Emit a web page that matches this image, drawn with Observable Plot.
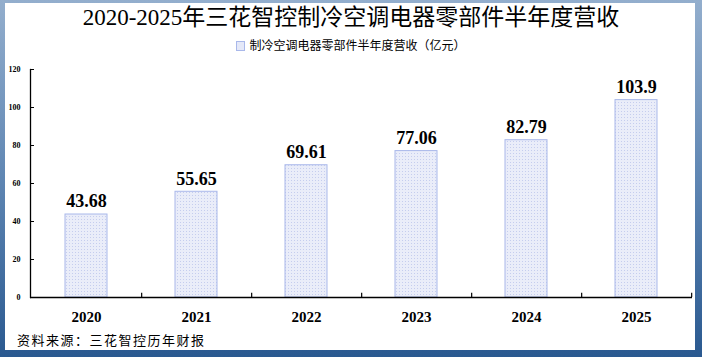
<!DOCTYPE html>
<html><head><meta charset="utf-8">
<script src="https://cdn.jsdelivr.net/npm/d3@7"></script>
<script src="https://cdn.jsdelivr.net/npm/@observablehq/plot@0.6"></script>
<style>
html,body{margin:0;padding:0;background:#fff;}
#frame{position:relative;width:702px;height:357px;background:linear-gradient(to bottom,#93aecd 0%,#5f86b3 50%,#2a5990 100%);overflow:hidden;}
#inner{position:absolute;left:5px;top:3px;width:690px;height:347px;background:#fff;}
#title{position:absolute;left:0;top:5px;width:702px;text-align:center;font:23px/26px "Liberation Serif","Times New Roman","Noto Sans CJK SC",serif;color:#000;}
#legend{position:absolute;left:0;top:39px;width:702px;text-align:center;font:12px/14px "Liberation Serif","Noto Sans CJK SC",serif;color:#000;}
#legend .sw{display:inline-block;width:9px;height:10px;background:#e4e8f8;border:1px solid #a9b8ea;box-sizing:border-box;vertical-align:-1px;margin-right:4px;}
#chart{position:absolute;left:0;top:60px;}
#chart svg{overflow:visible;}
#caption{position:absolute;left:17px;top:332px;font:13px/16px "Noto Sans CJK SC",serif;letter-spacing:1.5px;color:#000;}
</style></head>
<body>
<div id="frame">
  <div id="inner"></div>
  <div id="title">2020-2025年三花智控制冷空调电器零部件半年度营收</div>
  <div id="legend"><span class="sw"></span>制冷空调电器零部件半年度营收（亿元）</div>
  <div id="chart"></div>
  <div id="caption">资料来源：三花智控历年财报</div>
</div>
<script>
const years = ["2020", "2021", "2022", "2023", "2024", "2025"];
const revenue = [43.68, 55.65, 69.61, 77.06, 82.79, 103.9];
const valueLabels = ["43.68", "55.65", "69.61", "77.06", "82.79", "103.9"];
const yTicks = [0, 20, 40, 60, 80, 100, 120];

const data = years.map((y, i) => ({year: y, value: revenue[i], label: valueLabels[i]}));

const W = 702, H = 270, ML = 30, MR = 10, MT = 9, MB = 33;
const step = (W - ML - MR) / years.length;
const serif = "'Liberation Serif', 'Times New Roman', serif";

const plot = Plot.plot({
  width: W, height: H,
  marginLeft: ML, marginRight: MR, marginTop: MT, marginBottom: MB,
  style: {background: "transparent", fontFamily: serif, color: "#000", overflow: "visible"},
  x: {domain: years, paddingInner: 0.62, paddingOuter: 0.31, label: null},
  y: {domain: [0, 120], label: null},
  marks: [
    Plot.barY(data, {x: "year", y: "value", fill: "url(#dotpat)", stroke: "#a9b8ea", strokeWidth: 1}),
    Plot.ruleY([0], {stroke: "#000", strokeWidth: 1.3}),
    Plot.frame({anchor: "left", stroke: "#000", strokeWidth: 1.3}),
    Plot.ruleX(years, {x: d => d, y1: 0, y2: 2.2, dx: step / 2, stroke: "#000", strokeWidth: 1.2}),
    Plot.axisY(yTicks, {tickSize: 0, tickPadding: 10, fontSize: 8, fontWeight: "bold", label: null}),
    Plot.axisY(yTicks, {tickSize: 4, dx: 4, tickFormat: () => "", label: null}),
    Plot.axisX({tickSize: 0, tickPadding: 14, fontSize: 15, fontWeight: "bold", label: null}),
    Plot.text(data, {x: "year", y: "value", text: "label", dy: -13, fontSize: 18, fontWeight: "bold", fontFamily: serif})
  ]
});

const defs = d3.select(plot).insert("defs", ":first-child");
const pat = defs.append("pattern").attr("id", "dotpat").attr("width", 3).attr("height", 3).attr("patternUnits", "userSpaceOnUse");
pat.append("rect").attr("width", 3).attr("height", 3).attr("fill", "#eaedf9");
pat.append("rect").attr("width", 1).attr("height", 1).attr("fill", "#c5cdee");

document.getElementById("chart").appendChild(plot);
</script>
</body></html>
